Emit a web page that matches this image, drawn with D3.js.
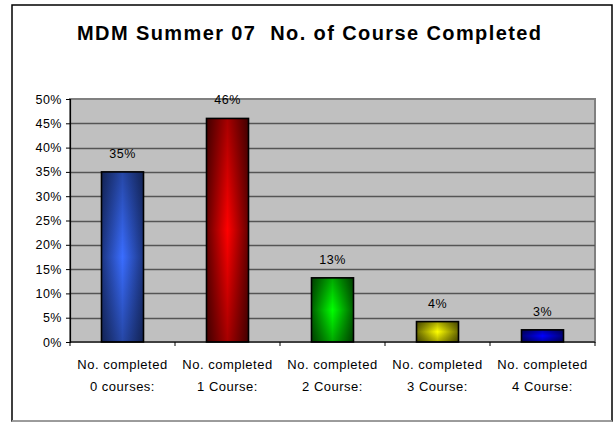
<!DOCTYPE html>
<html><head><meta charset="utf-8">
<script src="https://cdn.jsdelivr.net/npm/d3@7"></script>
<style>body{margin:0;background:#fff;}svg{display:block;font-family:"Liberation Sans",Arial,sans-serif;}</style>
</head><body>
<svg id="c" width="613" height="422"></svg>
<script>
const titleText = "MDM Summer 07  No. of Course Completed";
const categoriesLine1 = ["No. completed","No. completed","No. completed","No. completed","No. completed"];
const categoriesLine2 = ["0 courses:","1 Course:","2 Course:","3 Course:","4 Course:"];
const values = [0.35, 0.46, 0.132, 0.042, 0.025];
const valueLabels = ["35%","46%","13%","4%","3%"];
const yTicks = [0,0.05,0.10,0.15,0.20,0.25,0.30,0.35,0.40,0.45,0.50];
const edgeColors = ["#1c3580","#640000","#006000","#6a6a00","#00007a"];
const centerColors = ["#3a6dff","#ff0000","#00ff00","#ffff00","#0000ff"];

const svg = d3.select("#c");
const plot = {l:70, r:595, t:99, b:342};
const cats = categoriesLine2.map((d,i)=>i);
const FS = 12.5, LS = 0.5;

svg.append("rect").attr("x",12).attr("y",5).attr("width",600).attr("height",416)
  .attr("fill","#fff").attr("stroke","#000").attr("stroke-width",1.5);
svg.append("line").attr("x1",12).attr("x2",612).attr("y1",421).attr("y2",421).attr("stroke","#bbb").attr("stroke-width",1.5);

svg.append("text").attr("x",309).attr("y",40).attr("text-anchor","middle")
  .style("white-space","pre")
  .attr("font-size",20).attr("font-weight","bold").attr("fill","#000")
  .attr("textLength",464).attr("lengthAdjust","spacing").text(titleText);

const x = d3.scaleBand().domain(cats).range([plot.l,plot.r]).paddingInner(0.6).paddingOuter(0.3);
const y = d3.scaleLinear().domain([0,0.5]).range([plot.b,plot.t]);

svg.append("rect").attr("x",plot.l).attr("y",plot.t).attr("width",plot.r-plot.l).attr("height",plot.b-plot.t)
  .attr("fill","#c0c0c0").attr("stroke","#808080").attr("stroke-width",2);

svg.append("g").selectAll("line").data(yTicks.filter(d=>d>0 && d<0.5)).join("line")
  .attr("x1",plot.l).attr("x2",plot.r).attr("y1",d=>Math.round(y(d))+0.5).attr("y2",d=>Math.round(y(d))+0.5)
  .attr("stroke","#555").attr("stroke-width",1.3);

const defs = svg.append("defs");
values.forEach((v,i)=>{
  const g = defs.append("linearGradient").attr("id","gh"+i).attr("x1","0").attr("x2","1").attr("y1","0").attr("y2","0");
  g.append("stop").attr("offset","0").attr("stop-color",edgeColors[i]);
  g.append("stop").attr("offset","0.5").attr("stop-color",centerColors[i]);
  g.append("stop").attr("offset","1").attr("stop-color",edgeColors[i]);
});
const gv = defs.append("linearGradient").attr("id","gv").attr("x1","0").attr("x2","0").attr("y1","0").attr("y2","1");
gv.append("stop").attr("offset","0").attr("stop-color","#000").attr("stop-opacity",0.35);
gv.append("stop").attr("offset","0.5").attr("stop-color","#000").attr("stop-opacity",0);
gv.append("stop").attr("offset","1").attr("stop-color","#000").attr("stop-opacity",0.35);

const bars = svg.append("g");
bars.selectAll("rect.b").data(values).join("rect").attr("class","b")
  .attr("x",(d,i)=>x(i)).attr("width",x.bandwidth())
  .attr("y",d=>y(d)).attr("height",d=>y(0)-y(d))
  .attr("fill",(d,i)=>`url(#gh${i})`);
bars.selectAll("rect.o").data(values).join("rect").attr("class","o")
  .attr("x",(d,i)=>x(i)).attr("width",x.bandwidth())
  .attr("y",d=>y(d)).attr("height",d=>y(0)-y(d))
  .attr("fill","url(#gv)").attr("stroke","#000").attr("stroke-width",1.6);

svg.append("g").selectAll("text").data(values).join("text")
  .attr("x",(d,i)=>x(i)+x.bandwidth()/2).attr("y",d=>y(d)-14)
  .attr("text-anchor","middle").attr("font-size",FS).attr("letter-spacing",LS).attr("fill","#000")
  .text((d,i)=>valueLabels[i]);

const yAxis = d3.axisLeft(y).tickValues(yTicks).tickFormat(d3.format(".0%")).tickSize(4).tickPadding(4);
const ga = svg.append("g").attr("transform",`translate(${plot.l},0)`).call(yAxis);
ga.select(".domain").attr("stroke","#000").attr("stroke-width",1.2);
ga.selectAll(".tick line").attr("stroke","#000");
ga.selectAll(".tick text").attr("font-size",FS).attr("letter-spacing",LS)
  .attr("font-family","Liberation Sans, Arial, sans-serif").attr("fill","#000");

const bounds = cats.map(i=>x(i)-(x.step()-x.bandwidth())/2).concat([plot.r]);
svg.append("line").attr("x1",plot.l).attr("x2",plot.r).attr("y1",plot.b).attr("y2",plot.b).attr("stroke","#000").attr("stroke-width",1.2);
svg.append("g").selectAll("line").data(bounds).join("line")
  .attr("x1",d=>d).attr("x2",d=>d).attr("y1",plot.b).attr("y2",plot.b+4).attr("stroke","#000");
const xl = svg.append("g").selectAll("text").data(cats).join("text")
  .attr("text-anchor","middle").attr("font-size",13).attr("letter-spacing",LS).attr("fill","#000");
xl.append("tspan").attr("x",i=>x(i)+x.bandwidth()/2).attr("y",369).text(i=>categoriesLine1[i]);
xl.append("tspan").attr("x",i=>x(i)+x.bandwidth()/2).attr("y",391).text(i=>categoriesLine2[i]);
</script>
</body></html>
